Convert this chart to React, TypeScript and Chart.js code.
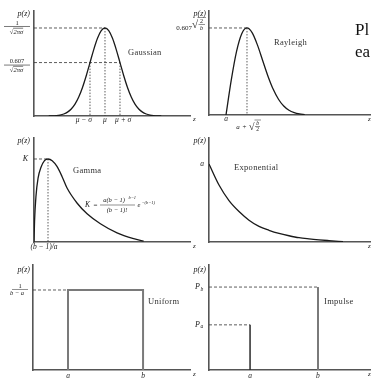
import React, { useEffect, useRef } from "react";
import { Chart, registerables } from "chart.js";
Chart.register(...registerables);

const W = 372;
const H = 378;

// ---------- data (heights normalised to the peak) ----------
// Gaussian: z in units of sigma from mu
const gaussZ = [-3.75, -3.5, -3.25, -3, -2.75, -2.5, -2.25, -2, -1.75, -1.5, -1.25, -1, -0.75, -0.5, -0.25, 0, 0.25, 0.5, 0.75, 1, 1.25, 1.5, 1.75, 2, 2.25, 2.5, 2.75, 3, 3.25, 3.5, 3.75];
const gaussP = [0.0009, 0.0022, 0.0051, 0.0111, 0.0228, 0.0439, 0.0796, 0.1353, 0.2163, 0.3247, 0.4578, 0.6065, 0.7548, 0.8825, 0.9692, 1, 0.9692, 0.8825, 0.7548, 0.6065, 0.4578, 0.3247, 0.2163, 0.1353, 0.0796, 0.0439, 0.0228, 0.0111, 0.0051, 0.0022, 0.0009];
const gaussMarks = [-1, 0, 1];
const gaussLevels = [1, 0.607];
const gaussTicks = ["μ − σ", "μ", "μ + σ"];

// Rayleigh: t = (z - a) / sqrt(b/2)
const rayT = [0, 0.25, 0.5, 0.75, 1, 1.25, 1.5, 1.75, 2, 2.25, 2.5, 2.75, 3, 3.25, 3.5, 3.75];
const rayP = [0, 0.3996, 0.7275, 0.9334, 1, 0.9435, 0.8029, 0.624, 0.4463, 0.2951, 0.1811, 0.1033, 0.0549, 0.0273, 0.0126, 0.0055];
const rayPeak = [1, 1]; // [t at peak, height]

// Gamma (Erlang): u = z / ((b-1)/a)
const gammaU = [0, 0.04, 0.14, 0.29, 0.5, 0.75, 1, 1.3, 1.64, 2.0, 2.36, 3.07, 3.79, 4.74, 5.93, 7.12, 7.83];
const gammaP = [0, 0.25, 0.55, 0.77, 0.9, 0.98, 1, 0.98, 0.91, 0.79, 0.65, 0.47, 0.34, 0.22, 0.11, 0.04, 0.01];
const gammaPeak = [1, 1];

// Exponential
const expX = [0, 1, 2, 3, 4, 5, 6, 7, 8, 9, 10, 11, 12, 13.4];
const expP = [1, 0.73, 0.53, 0.39, 0.28, 0.2, 0.15, 0.11, 0.08, 0.055, 0.04, 0.028, 0.018, 0.005];

// Uniform
const uniformEdges = [0.223, 0.701];
const uniformLevel = 0.762;

// Impulse
const impulseX = [0.255, 0.677];
const impulseP = [0.43, 0.79];

// ---------- styles ----------
const SERIF = '"Liberation Serif", "DejaVu Serif", serif';
const TEXT = "#222";
const LABEL = "#333";
const AXIS = "#555";
const CURVE = "#1a1a1a";
const GUIDE = "#333";
const NAME = 8.5;
const PZ = 8;
const TICK = 7.5;

type Ctx = CanvasRenderingContext2D;
type Opt = { size?: number; italic?: boolean; align?: CanvasTextAlign; color?: string; spacing?: number };

function fontOf(size: number, italic?: boolean) {
  return `${italic ? "italic " : ""}${size}px ${SERIF}`;
}
function txt(ctx: Ctx, s: string, x: number, y: number, o: Opt = {}) {
  ctx.save();
  ctx.font = fontOf(o.size ?? 7, o.italic);
  (ctx as any).letterSpacing = `${o.spacing ?? 0}px`;
  ctx.fillStyle = o.color ?? TEXT;
  ctx.textAlign = o.align ?? "left";
  ctx.textBaseline = "middle";
  ctx.fillText(s, x, y);
  const w = ctx.measureText(s).width;
  ctx.restore();
  return w;
}
function measure(ctx: Ctx, s: string, size: number, italic?: boolean) {
  ctx.save();
  ctx.font = fontOf(size, italic);
  const w = ctx.measureText(s).width;
  ctx.restore();
  return w;
}
function rule(ctx: Ctx, x1: number, x2: number, y: number, w = 0.6, color = TEXT) {
  ctx.save();
  ctx.strokeStyle = color;
  ctx.lineWidth = w;
  ctx.beginPath();
  ctx.moveTo(x1, y);
  ctx.lineTo(x2, y);
  ctx.stroke();
  ctx.restore();
}
function sqrtDen(ctx: Ctx, cx: number, y: number, body: string, size: number) {
  const wR = measure(ctx, "√", size);
  const wB = measure(ctx, body, size, true);
  const x0 = cx - (wR + wB) / 2;
  txt(ctx, "√", x0, y, { size });
  txt(ctx, body, x0 + wR, y, { size, italic: true });
  rule(ctx, x0 + wR - 0.3, x0 + wR + wB, y - size * 0.58, 0.6);
}
function name(ctx: Ctx, s: string, x: number, y: number) {
  txt(ctx, s, x, y, { size: NAME, color: LABEL, spacing: 0.3 });
}

const pts = (xs: number[], ys: number[]) => xs.map((x, i) => ({ x, y: ys[i] }));

function curve(data: { x: number; y: number }[]) {
  return {
    data,
    showLine: true,
    borderColor: CURVE,
    borderWidth: 1.3,
    pointRadius: 0,
    cubicInterpolationMode: "monotone" as const,
  };
}
function seg(x1: number, y1: number, x2: number, y2: number, dash: number[] = [3, 2], color = GUIDE, width = 0.8) {
  return {
    data: [{ x: x1, y: y1 }, { x: x2, y: y2 }],
    showLine: true,
    borderColor: color,
    borderWidth: width,
    borderDash: dash,
    pointRadius: 0,
  };
}

type DrawFn = (ctx: Ctx, X: (v: number) => number, Y: (v: number) => number, a: { left: number; top: number; right: number; bottom: number }) => void;
type Spec = {
  area: [number, number, number, number];
  xMin: number;
  xMax: number;
  yMax: number;
  datasets: any[];
  draw: DrawFn;
};

// ---------- panels ----------
const G_XMIN = -4.733;
const R_XMIN = -0.81;

const panels: Spec[] = [
  {
    area: [34, 11, 190, 116],
    xMin: G_XMIN,
    xMax: 5.667,
    yMax: 1.193,
    datasets: [
      curve(pts(gaussZ, gaussP)),
      seg(G_XMIN, gaussLevels[0], gaussMarks[1], gaussLevels[0]),
      seg(G_XMIN, gaussLevels[1], gaussMarks[2], gaussLevels[1]),
      seg(gaussMarks[0], gaussLevels[1], gaussMarks[0], 0, [1.5, 1.5]),
      seg(gaussMarks[1], gaussLevels[0], gaussMarks[1], 0, [1.5, 1.5]),
      seg(gaussMarks[2], gaussLevels[1], gaussMarks[2], 0, [1.5, 1.5]),
    ],
    draw: (ctx, X, Y, a) => {
      txt(ctx, "p(z)", a.left - 4, a.top + 3, { italic: true, align: "right", size: PZ });
      let cy = Y(gaussLevels[0]);
      txt(ctx, "1", 17, cy - 5, { align: "center", size: 6.5 });
      rule(ctx, 4, 30, cy - 1.5);
      sqrtDen(ctx, 16.5, cy + 4, "2πσ", 6.5);
      cy = Y(gaussLevels[1]);
      txt(ctx, "0.607", 17, cy - 1.5, { align: "center", size: 6.5 });
      rule(ctx, 4, 30, cy + 2.5);
      sqrtDen(ctx, 16.5, cy + 7.5, "2πσ", 6.5);
      name(ctx, "Gaussian", 128, 53);
      const ly = a.bottom + 4;
      txt(ctx, gaussTicks[0], X(gaussMarks[0]) + 2, ly, { italic: true, align: "right", size: TICK });
      txt(ctx, gaussTicks[1], X(gaussMarks[1]), ly, { italic: true, align: "center", size: TICK });
      txt(ctx, gaussTicks[2], X(gaussMarks[2]) - 5, ly, { italic: true, align: "left", size: TICK });
      txt(ctx, "z", a.right + 3, a.bottom + 3, { italic: true, size: 7 });
    },
  },
  {
    area: [209, 11, 370, 115],
    xMin: R_XMIN,
    xMax: 6.86,
    yMax: 1.195,
    datasets: [
      curve(pts(rayT, rayP)),
      seg(R_XMIN, rayPeak[1], rayPeak[0], rayPeak[1]),
      seg(rayPeak[0], rayPeak[1], rayPeak[0], 0, [1.5, 1.5]),
    ],
    draw: (ctx, X, Y, a) => {
      txt(ctx, "p(z)", a.left - 3, a.top + 3, { italic: true, align: "right", size: PZ });
      const cy = Y(rayPeak[1]);
      txt(ctx, "0.607", 192, cy, { align: "right", size: 7 });
      txt(ctx, "√", 192, cy - 2.5, { size: 11 });
      txt(ctx, "2", 201.5, cy - 7, { align: "center", size: 6 });
      rule(ctx, 198.5, 205, cy - 3.5, 0.5);
      txt(ctx, "b", 201.5, cy + 0.5, { align: "center", size: 6, italic: true });
      rule(ctx, 197.5, 206, cy - 10.5, 0.5);
      name(ctx, "Rayleigh", 274, 43);
      txt(ctx, "a", X(0), a.bottom + 4, { italic: true, align: "center", size: TICK });
      const by = a.bottom + 12;
      txt(ctx, "a", 238, by, { italic: true, align: "center", size: 7 });
      txt(ctx, "+", 244.5, by, { align: "center", size: 7 });
      txt(ctx, "√", 249, by + 0.5, { size: 10 });
      txt(ctx, "b", 257.5, by - 3.5, { italic: true, align: "center", size: 5.5 });
      rule(ctx, 255, 260, by - 0.5, 0.5);
      txt(ctx, "2", 257.5, by + 3, { align: "center", size: 5.5 });
      rule(ctx, 254.5, 261, by - 7, 0.5);
      txt(ctx, "z", a.right - 2, a.bottom + 4, { italic: true, size: 7 });
    },
  },
  {
    area: [34, 138, 190, 242],
    xMin: 0,
    xMax: 11.14,
    yMax: 1.253,
    datasets: [
      curve(pts(gammaU, gammaP)),
      seg(0, gammaPeak[1], gammaPeak[0], gammaPeak[1]),
      seg(gammaPeak[0], gammaPeak[1], gammaPeak[0], 0, [1.5, 1.5]),
    ],
    draw: (ctx, X, Y, a) => {
      txt(ctx, "p(z)", a.left - 4, a.top + 3, { italic: true, align: "right", size: PZ });
      txt(ctx, "K", a.left - 6, Y(gammaPeak[1]), { italic: true, align: "right", size: 8 });
      name(ctx, "Gamma", 73, 171);
      // K = a(b-1)^{b-1}/(b-1)! e^{-(b-1)}
      const fy = 205;
      txt(ctx, "K", 85, fy, { italic: true, size: 7.5 });
      txt(ctx, "=", 93.5, fy, { size: 7 });
      txt(ctx, "a(b − 1)", 114, fy - 4.5, { italic: true, align: "center", size: 6.5 });
      txt(ctx, "b−1", 128.5, fy - 7.5, { italic: true, size: 4.5 });
      rule(ctx, 100, 135, fy, 0.5);
      txt(ctx, "(b − 1)!", 117, fy + 4.8, { italic: true, align: "center", size: 6.5 });
      txt(ctx, "e", 137.5, fy + 0.5, { italic: true, size: 6.5 });
      txt(ctx, "−(b−1)", 141.5, fy - 2.5, { italic: true, size: 4.5 });
      txt(ctx, "(b − 1)/a", X(gammaPeak[0]) - 4, a.bottom + 5, { italic: true, align: "center", size: TICK });
      txt(ctx, "z", a.right + 3, a.bottom + 4, { italic: true, size: 7 });
    },
  },
  {
    area: [209, 138, 370, 242],
    xMin: 0,
    xMax: 16.1,
    yMax: 1.333,
    datasets: [curve(pts(expX, expP))],
    draw: (ctx, X, Y, a) => {
      txt(ctx, "p(z)", a.left - 3, a.top + 3, { italic: true, align: "right", size: PZ });
      txt(ctx, "a", a.left - 5, Y(expP[0]), { italic: true, align: "right", size: 7.5 });
      name(ctx, "Exponential", 234, 168);
      txt(ctx, "z", a.right - 2, a.bottom + 4, { italic: true, size: 7 });
    },
  },
  {
    area: [33, 265, 190, 370],
    xMin: 0,
    xMax: 1,
    yMax: 1,
    datasets: [
      {
        data: [
          { x: uniformEdges[0], y: 0 },
          { x: uniformEdges[0], y: uniformLevel },
          { x: uniformEdges[1], y: uniformLevel },
          { x: uniformEdges[1], y: 0 },
        ],
        showLine: true,
        borderColor: "#7a7a7a",
        borderWidth: 2,
        pointRadius: 0,
      },
      seg(0, uniformLevel, uniformEdges[0], uniformLevel),
    ],
    draw: (ctx, X, Y, a) => {
      txt(ctx, "p(z)", a.left - 3, a.top + 5, { italic: true, align: "right", size: PZ });
      const cy = Y(uniformLevel);
      txt(ctx, "1", 20, cy - 3.5, { align: "center", size: 6.5 });
      rule(ctx, 12, 28, cy - 0.5, 0.5);
      txt(ctx, "b − a", 17, cy + 3.5, { italic: true, align: "center", size: 6.5 });
      name(ctx, "Uniform", 148, 302);
      txt(ctx, "a", X(uniformEdges[0]), a.bottom + 6, { italic: true, align: "center", size: TICK });
      txt(ctx, "b", X(uniformEdges[1]), a.bottom + 6, { italic: true, align: "center", size: TICK });
      txt(ctx, "z", a.right + 3, a.bottom + 4, { italic: true, size: 7 });
    },
  },
  {
    area: [209, 265, 370, 370],
    xMin: 0,
    xMax: 1,
    yMax: 1,
    datasets: [
      seg(impulseX[0], 0, impulseX[0], impulseP[0], [], "#2a2a2a", 1.5),
      seg(impulseX[1], 0, impulseX[1], impulseP[1], [], "#7a7a7a", 2),
      seg(0, impulseP[0], impulseX[0], impulseP[0]),
      seg(0, impulseP[1], impulseX[1], impulseP[1]),
    ],
    draw: (ctx, X, Y, a) => {
      txt(ctx, "p(z)", a.left - 3, a.top + 5, { italic: true, align: "right", size: PZ });
      txt(ctx, "P", 195, Y(impulseP[1]), { italic: true, size: 8 });
      txt(ctx, "b", 200.5, Y(impulseP[1]) + 2, { italic: true, size: 5.5 });
      txt(ctx, "P", 195, Y(impulseP[0]), { italic: true, size: 8 });
      txt(ctx, "a", 200.5, Y(impulseP[0]) + 2, { italic: true, size: 5.5 });
      name(ctx, "Impulse", 324, 302);
      txt(ctx, "a", X(impulseX[0]), a.bottom + 6, { italic: true, align: "center", size: TICK });
      txt(ctx, "b", X(impulseX[1]), a.bottom + 6, { italic: true, align: "center", size: TICK });
      txt(ctx, "z", a.right - 2, a.bottom + 4, { italic: true, size: 7 });
    },
  },
];

function axisOpts(min: number, max: number) {
  return {
    type: "linear" as const,
    min,
    max,
    ticks: { display: false },
    grid: { display: false, drawTicks: false },
    border: { display: true, color: AXIS, width: 1.6 },
  };
}

function Panel({ spec }: { spec: Spec }) {
  const ref = useRef<HTMLCanvasElement>(null);
  useEffect(() => {
    const [l, t, r, b] = spec.area;
    const chart = new Chart(ref.current!, {
      type: "scatter",
      data: { datasets: spec.datasets },
      options: {
        responsive: false,
        animation: false,
        devicePixelRatio: 1,
        events: [],
        layout: { padding: { left: l, top: t, right: W - r, bottom: H - b } },
        plugins: { legend: { display: false }, tooltip: { enabled: false } },
        scales: { x: axisOpts(spec.xMin, spec.xMax), y: axisOpts(0, spec.yMax) },
      },
      plugins: [
        {
          id: "labels",
          afterDraw: (c: any) => {
            spec.draw(
              c.ctx,
              (v: number) => c.scales.x.getPixelForValue(v),
              (v: number) => c.scales.y.getPixelForValue(v),
              c.chartArea
            );
          },
        },
      ],
    } as any);
    return () => chart.destroy();
  }, [spec]);
  return (
    <canvas
      ref={ref}
      width={W}
      height={H}
      style={{ position: "absolute", left: 0, top: 0, width: W, height: H }}
    />
  );
}

export default function App() {
  return (
    <div
      style={{
        position: "fixed",
        left: 0,
        top: 0,
        width: W,
        height: H,
        overflow: "hidden",
        background: "#fff",
      }}
    >
      {panels.map((p, i) => (
        <Panel key={i} spec={p} />
      ))}
      <div
        style={{
          position: "absolute",
          left: 355,
          top: 19,
          font: `17px ${SERIF}`,
          lineHeight: "22px",
          color: "#111",
          whiteSpace: "nowrap",
        }}
      >
        Pl
        <br />
        ea
      </div>
    </div>
  );
}
